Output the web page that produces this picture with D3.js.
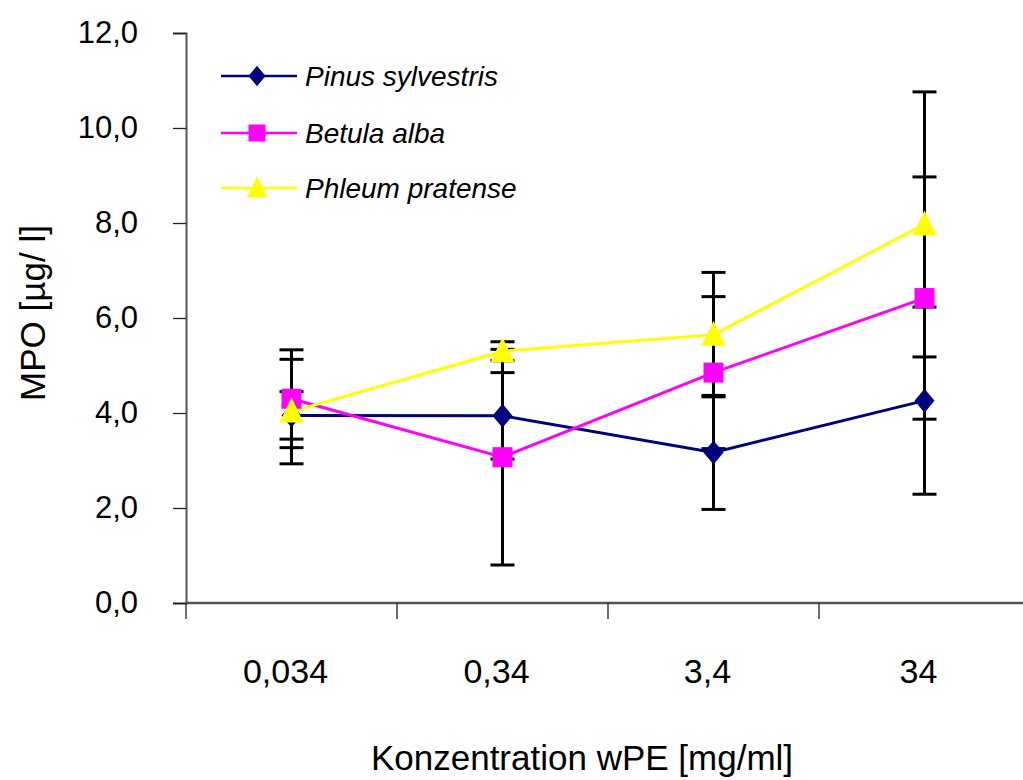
<!DOCTYPE html>
<html>
<head>
<meta charset="utf-8">
<script src="https://d3js.org/d3.v7.min.js"></script>
<style>
body { margin: 0; background: #fff; }
text { font-family: "Liberation Sans", Arial, Helvetica, sans-serif; }
</style>
</head>
<body>
<div id="chart"></div>
<script>
/* chart values */
var categories = ["0,034", "0,34", "3,4", "34"];
var yTicks = [0, 2, 4, 6, 8, 10, 12];
var seriesNames = ["Pinus sylvestris", "Betula alba", "Phleum pratense"];
var pinus = [3.95, 3.94, 3.17, 4.26];
var pinusErr = [0.5, 0.91, 1.2, 1.97];
var betula = [4.3, 3.07, 4.85, 6.42];
var betulaErr = [1.03, 2.27, 1.6, 2.55];
var phleum = [4.03, 5.3, 5.65, 7.97];
var phleumErr = [1.1, 0.2, 1.31, 2.79];

var W = 1023, H = 780;
var mLeft = 186, mTop = 33, mBottom = 603;

var svg = d3.select("#chart").append("svg")
    .attr("width", W)
    .attr("height", H);

var x = d3.scaleBand()
    .domain(categories)
    .range([mLeft, mLeft + 4 * 211]);

var y = d3.scaleLinear()
    .domain([0, 12])
    .range([mBottom, mTop]);

var fmt = function(d) { return d.toFixed(1).replace(".", ","); };

/* y axis */
var yAxis = svg.append("g")
    .attr("transform", "translate(" + mLeft + ",0)")
    .call(d3.axisLeft(y).tickValues(yTicks).tickSize(13).tickPadding(35).tickFormat(fmt));
yAxis.select(".domain").attr("stroke", "#555").attr("stroke-width", 2);
yAxis.selectAll(".tick line").attr("stroke", "#222").attr("stroke-width", 1.3);
yAxis.selectAll("text")
    .attr("font-size", "31px")
    .attr("fill", "#000")
    .attr("font-family", "Liberation Sans, Arial, sans-serif");

/* x axis: ticks on band edges */
var xAxis = svg.append("g")
    .attr("transform", "translate(0," + mBottom + ")");
xAxis.append("line")
    .attr("x1", mLeft).attr("x2", W)
    .attr("y1", 0).attr("y2", 0)
    .attr("stroke", "#555").attr("stroke-width", 2.5);
categories.forEach(function(c) {
    xAxis.append("line")
        .attr("x1", x(c)).attr("x2", x(c))
        .attr("y1", 0).attr("y2", 16)
        .attr("stroke", "#222").attr("stroke-width", 1.3);
    xAxis.append("text")
        .attr("x", x(c) + x.bandwidth() / 2 - 6)
        .attr("y", 80)
        .attr("text-anchor", "middle")
        .attr("font-size", "34px")
        .text(c);
});

/* axis titles */
svg.append("text")
    .attr("x", 582)
    .attr("y", 770)
    .attr("text-anchor", "middle")
    .attr("font-size", "35px")
    .text("Konzentration wPE [mg/ml]");

svg.append("text")
    .attr("transform", "translate(45,313) rotate(-90)")
    .attr("text-anchor", "middle")
    .attr("font-size", "35px")
    .text("MPO [µg/ l]");

var series = [
    { name: seriesNames[0], values: pinus, err: pinusErr, color: "#000080", shape: "diamond" },
    { name: seriesNames[1], values: betula, err: betulaErr, color: "#FF00FF", shape: "square" },
    { name: seriesNames[2], values: phleum, err: phleumErr, color: "#FFFF00", shape: "triangle" }
];

var cx = function(i) { return x(categories[i]) + x.bandwidth() / 2; };

/* error bars */
series.forEach(function(s) {
    s.values.forEach(function(v, i) {
        var g = svg.append("g").attr("stroke", "#000").attr("stroke-width", 3);
        g.append("line")
            .attr("x1", cx(i)).attr("x2", cx(i))
            .attr("y1", y(v + s.err[i])).attr("y2", y(v - s.err[i]));
        [v + s.err[i], v - s.err[i]].forEach(function(e) {
            g.append("line")
                .attr("x1", cx(i) - 12).attr("x2", cx(i) + 12)
                .attr("y1", y(e)).attr("y2", y(e));
        });
    });
});

var line = d3.line()
    .x(function(d, i) { return cx(i); })
    .y(function(d) { return y(d); });

/* lines */
series.forEach(function(s) {
    svg.append("path")
        .datum(s.values)
        .attr("d", line)
        .attr("fill", "none")
        .attr("stroke", s.color)
        .attr("stroke-width", 3);
});

function marker(g, shape, px, py, color, k) {
    if (shape == "diamond") {
        var h = 12 * k, w = 10 * k;
        g.append("path")
            .attr("d", "M" + px + "," + (py - h) + "L" + (px + w) + "," + py + "L" + px + "," + (py + h) + "L" + (px - w) + "," + py + "Z")
            .attr("fill", color);
    } else if (shape == "square") {
        var a = 10 * k;
        g.append("rect")
            .attr("x", px - a).attr("y", py - a)
            .attr("width", 2 * a).attr("height", 2 * a)
            .attr("fill", color);
    } else {
        var hw = 12 * k, up = 14 * k, dn = 11 * k;
        g.append("path")
            .attr("d", "M" + px + "," + (py - up) + "L" + (px + hw) + "," + (py + dn) + "L" + (px - hw) + "," + (py + dn) + "Z")
            .attr("fill", color);
    }
}

/* markers */
series.forEach(function(s) {
    var g = svg.append("g");
    s.values.forEach(function(v, i) {
        marker(g, s.shape, cx(i), y(v), s.color, 1);
    });
});

/* legend */
var legendY = [76, 133, 188];
series.forEach(function(s, i) {
    var g = svg.append("g");
    g.append("line")
        .attr("x1", 221).attr("x2", 297)
        .attr("y1", legendY[i]).attr("y2", legendY[i])
        .attr("stroke", s.color)
        .attr("stroke-width", 2.5);
    marker(g, s.shape, 257, legendY[i], s.color, 0.85);
    g.append("text")
        .attr("x", 305)
        .attr("y", legendY[i] + 10)
        .attr("font-size", "28px")
        .attr("font-style", "italic")
        .text(s.name);
});
</script>
</body>
</html>
